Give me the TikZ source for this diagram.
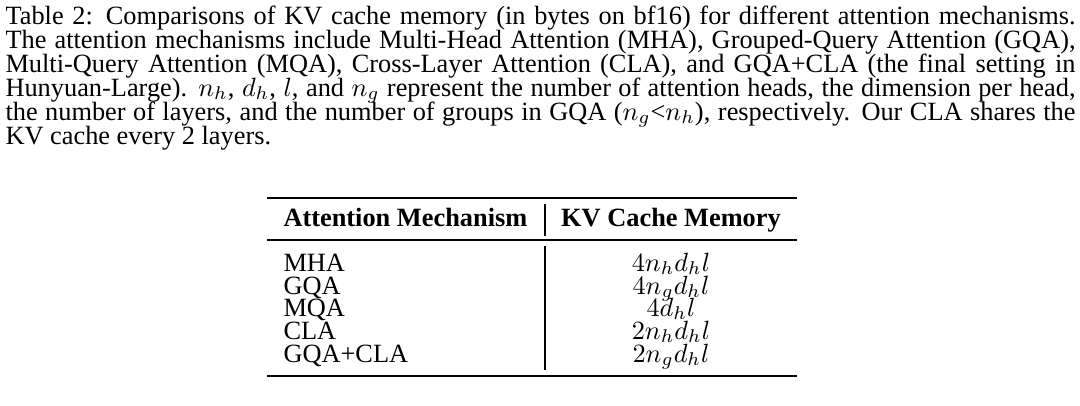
\documentclass[tikz,border=0pt]{standalone}
\usepackage{fontspec}
\setmainfont{Liberation Serif}
\usetikzlibrary{positioning}

\newcommand{\capline}[1]{\makebox[14.27cm][s]{#1}}

\begin{document}
\begin{tikzpicture}[x=0.013333cm, y=-0.013333cm, font=\fontsize{10}{11}\selectfont,
    capnode/.style={anchor=base west, inner sep=0pt},
    cell/.style={anchor=base west, inner sep=0pt},
    val/.style={anchor=base, inner sep=0pt},
    toprule/.style={line width=1.1pt},
    midrule/.style={line width=0.5pt}]
    \useasboundingbox (0,0) rectangle (1080,405);

    % Caption
    \node [capnode] (c1) at (5,24)  {\capline{Table 2: Comparisons of KV cache memory (in bytes on bf16) for different attention mechanisms.}};
    \node [capnode] (c2) at (5,48)  {\capline{The attention mechanisms include Multi-Head Attention (MHA), Grouped-Query Attention (GQA),}};
    \node [capnode] (c3) at (5,72)  {\capline{Multi-Query Attention (MQA), Cross-Layer Attention (CLA), and GQA+CLA (the final setting in}};
    \node [capnode] (c4) at (5,96)  {\capline{Hunyuan-Large). $n_h$, $d_h$, $l$, and $n_g$ represent the number of attention heads, the dimension per head,}};
    \node [capnode] (c5) at (5,120) {\capline{the number of layers, and the number of groups in GQA ($n_g$<$n_h$), respectively. Our CLA shares the}};
    \node [capnode] (c6) at (5,144) {KV cache every 2 layers.};

    % Rules
    \draw [toprule] (267,198) -- (797,198);
    \draw [midrule] (267,240) -- (797,240);
    \draw [toprule] (267,376) -- (797,376);
    \draw [midrule] (545,204) -- (545,236);
    \draw [midrule] (545,246) -- (545,370);

    % Header
    \node [cell] (h1) at (283,226) {\textbf{Attention Mechanism}};
    \node [val]  (h2) at (671,226) {\textbf{KV Cache Memory}};

    % Rows
    \node [cell] (r1) at (283,271) {MHA};
    \node [cell] (r2) at (283,294) {GQA};
    \node [cell] (r3) at (283,316) {MQA};
    \node [cell] (r4) at (283,339) {CLA};
    \node [cell] (r5) at (283,362) {GQA+CLA};
    \node [val]  (v1) at (671,271) {$4n_hd_hl$};
    \node [val]  (v2) at (671,294) {$4n_gd_hl$};
    \node [val]  (v3) at (671,316) {$4d_hl$};
    \node [val]  (v4) at (671,339) {$2n_hd_hl$};
    \node [val]  (v5) at (671,362) {$2n_gd_hl$};
\end{tikzpicture}
\end{document}
